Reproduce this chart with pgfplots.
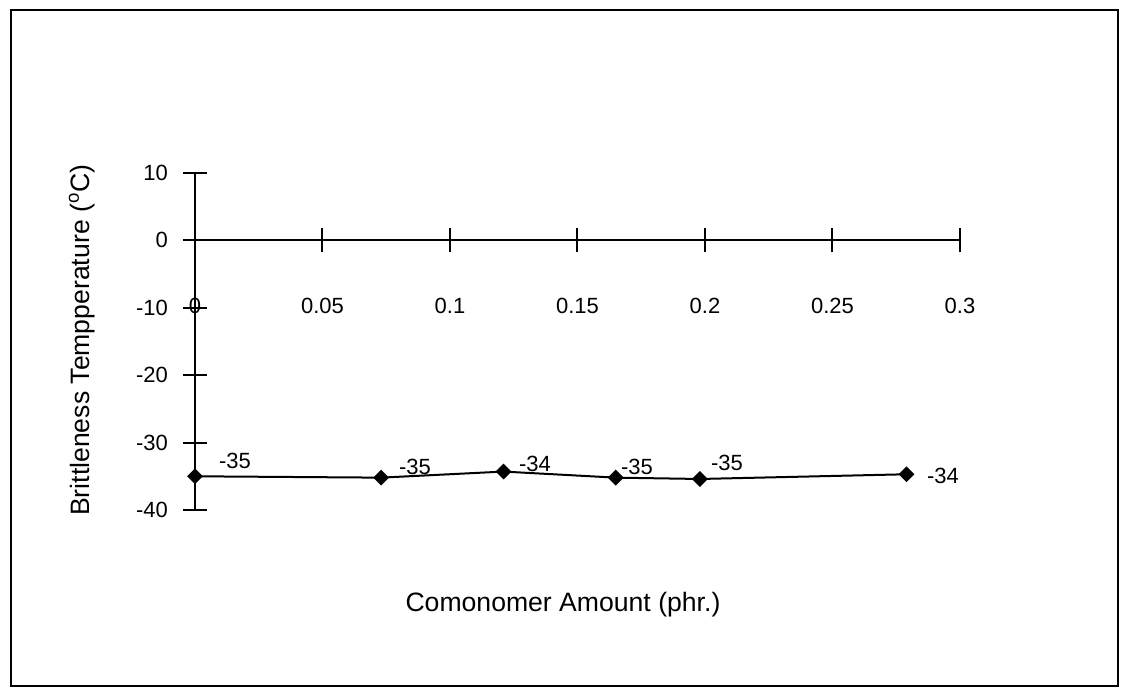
\documentclass[border=0pt]{standalone}
\usepackage{pgfplots}
\pgfplotsset{compat=1.18}
\usepackage{fontspec}
\setmainfont{Liberation Sans}

\begin{document}
\begin{tikzpicture}
% page 1126x694 px at 0.5pt per px, axis box's lower left at px (195,510)
\useasboundingbox (-97.5pt,-92pt) rectangle (465.5pt,255pt);
\draw[line width=1.3pt] (-92pt,-88pt) rectangle (461.5pt,250pt);
\begin{axis}[
  at={(0,0)}, anchor=south west, scale only axis, width=382.5pt, height=168.5pt,
  xmin=0, xmax=0.3, ymin=-40, ymax=10,
  axis x line=middle, axis y line=left,
  axis line style={-, line width=1.1pt},
  hide obscured x ticks=false, hide obscured y ticks=false,
  xtick={0,0.05,0.1,0.15,0.2,0.25,0.3}, ytick={-40,-30,-20,-10,0,10},
  xticklabels={0,0.05,0.1,0.15,0.2,0.25,0.3},
  tick align=center, major tick length=12pt,
  tick style={line width=1pt, black},
  x tick label style={anchor=center, yshift=-27pt, font=\fontsize{11}{13}\selectfont},
  y tick label style={font=\fontsize{11}{13}\selectfont, xshift=-4pt},
  /pgf/number format/assume math mode=true,
  xlabel={Comonomer Amount (phr.)},
  xlabel style={at={(axis description cs:0.481,-0.282)}, anchor=center, font=\fontsize{13.3}{15}\selectfont},
  ylabel={Brittleness Tempperature (\textsuperscript{o}C)},
  ylabel style={at={(axis description cs:-0.148,0.504)}, anchor=center, rotate=0, font=\fontsize{13.3}{15}\selectfont},
  clip=false,
]
\addplot[black, line width=1pt, mark=square*, mark size=2.3pt, mark options={solid, rotate=45}] coordinates {
  (0,-35) (0.073,-35.2) (0.121,-34.3) (0.165,-35.2) (0.198,-35.4) (0.279,-34.7)
};
\begin{scope}[font=\fontsize{11}{13}\selectfont]
\node at (axis cs:0.0157,-32.7) {-35};
\node at (axis cs:0.0863,-33.6) {-35};
\node at (axis cs:0.1333,-33.1) {-34};
\node at (axis cs:0.1733,-33.6) {-35};
\node at (axis cs:0.2086,-33.0) {-35};
\node at (axis cs:0.2933,-34.9) {-34};
\end{scope}
\end{axis}
\end{tikzpicture}
\end{document}
